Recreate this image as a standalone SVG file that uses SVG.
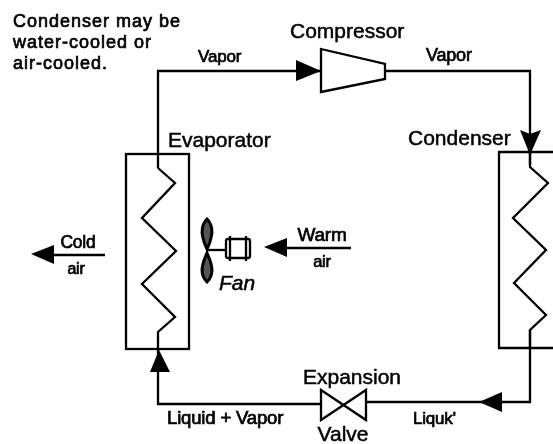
<svg xmlns="http://www.w3.org/2000/svg" width="553" height="444" viewBox="0 0 553 444">
<defs><filter id="soft" x="0" y="0" width="100%" height="100%"><feGaussianBlur stdDeviation="0.45"/></filter></defs>
<style>
text{font-family:"Liberation Sans",Arial,sans-serif;fill:#000;stroke:#000;stroke-width:.5px}
.l{font-size:21px}.c{text-anchor:middle}
.n{font-size:18px;letter-spacing:1px;stroke-width:.7px}
.v{font-size:17px;stroke-width:.7px;letter-spacing:-.2px}
.p{fill:none;stroke:#000;stroke-width:2.3;stroke-linejoin:miter}
.h{fill:#000;stroke:none}
.b{fill:#555;stroke:#000;stroke-width:3}
</style>
<rect width="553" height="444" fill="#fff"/>
<g filter="url(#soft)">
<g id="connectors">
<path class="p" d="M158 168V71H321"/>
<path class="p" d="M385 71H530V165"/>
<path class="p" d="M530 330V402H367"/>
<path class="p" d="M321 404H158V349"/>
<path class="p" d="M105 255H50"/>
<path class="p" d="M351 248H283"/>
<path class="h" d="M321 71L296 60V81Z"/>
<path class="h" d="M530 155L520 130L530 134L541 130Z"/>
<path class="h" d="M479 402L502 392V412Z"/>
<path class="h" d="M159 350L150 372H170Z"/>
<path class="h" d="M31 254L54 245V264Z"/>
<path class="h" d="M264 247L287 238V257Z"/>
</g>
<g id="evaporator">
<rect class="p" x="126" y="154" width="63" height="195"/>
<path class="p" d="M158 168L175 183L142 218L176 251L142 284L175 317L158 332V349"/>
<text class="l" x="168" y="147">Evaporator</text>
</g>
<g id="condenser">
<path class="p" d="M553 152H499V348H553"/>
<path class="p" d="M530 152V167L548 183L513 218L546 250L514 283L546 315L530 330V348"/>
<text class="l" x="408" y="145">Condenser</text>
</g>
<g id="compressor">
<path class="p" d="M321 49L385 64V79L321 92Z" stroke-linejoin="round"/>
<text class="l" x="290" y="38">Compressor</text>
</g>
<g id="valve">
<path class="p" d="M321 390L366 420V390L321 420Z"/>
<text class="l c" x="352" y="384">Expansion</text>
<text class="l c" x="343" y="441">Valve</text>
</g>
<g id="fan">
<path class="b" d="M207 219C212 224 213 232 211 238C210 243 208 247 207 249C206 247 204 243 203 238C201 232 202 224 207 219Z"/>
<path class="b" d="M207 253C208 256 210 259 211 264C213 271 212 277 207 282C202 277 201 271 203 264C204 259 206 256 207 253Z"/>
<path class="p" d="M207 250H226"/>
<rect class="p" x="226" y="239" width="24" height="19" rx="2"/>
<path class="p" d="M230 236V261M246 236V261"/>
<text class="l" x="219" y="290" font-style="italic">Fan</text>
</g>
<g id="labels">
<text class="n" x="13" y="27">Condenser may be</text>
<text class="n" x="13" y="48">water-cooled or</text>
<text class="n" x="13" y="69">air-cooled.</text>
<text class="v" x="198" y="62">Vapor</text>
<text class="v" x="426" y="61" style="font-size:18px">Vapor</text>
<text class="v c" x="78" y="248" style="font-size:17.5px">Cold</text>
<text class="v c" x="76" y="274" style="font-size:16px">air</text>
<text class="v c" x="322" y="241" style="font-size:19px">Warm</text>
<text class="v c" x="322" y="267" style="font-size:16.5px">air</text>
<text class="v" x="167" y="424" style="font-size:18.6px">Liquid + Vapor</text>
<text class="v" x="413" y="424">Liquk'</text>
</g>
</g>
</svg>
